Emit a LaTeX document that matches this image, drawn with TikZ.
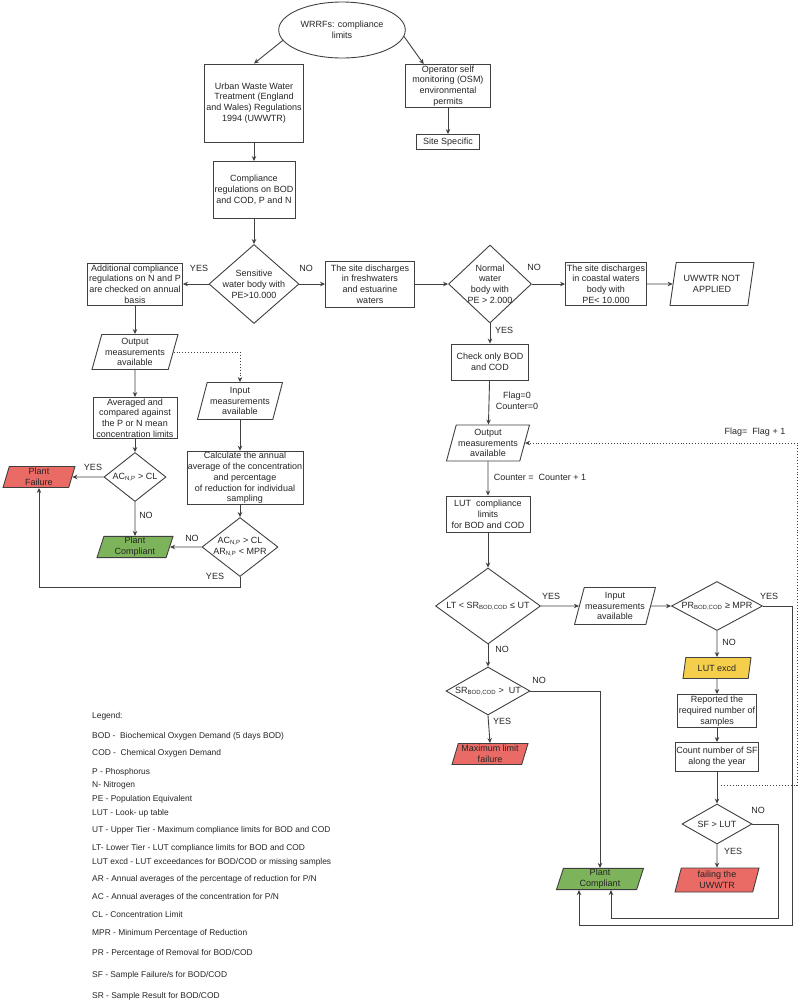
\documentclass[tikz,border=0pt]{standalone}
\usepackage{fontspec}
\setmainfont{Liberation Sans}
\usepackage{xcolor}
\usetikzlibrary{shapes.geometric, arrows.meta}
\definecolor{fail_red}{HTML}{EA6B66}
\definecolor{ok_green}{HTML}{7DB35A}
\definecolor{excd_yellow}{HTML}{F5CF4C}
\definecolor{line_gray}{HTML}{404040}
\tikzset{
  every node/.style={font=\fontsize{9}{10.8}\selectfont, text=black!85},
  box/.style={draw=line_gray, line width=0.9pt, rectangle, align=center, inner sep=1pt},
  io/.style={draw=line_gray, line width=0.9pt, trapezium, trapezium left angle=72,
    trapezium right angle=108, trapezium stretches body, align=center, inner sep=1pt},
  decide/.style={draw=line_gray, line width=0.9pt, diamond, inner sep=0pt},
  flow/.style={draw=line_gray, line width=0.9pt, -{Stealth[length=5pt, width=4.5pt]}},
  tag/.style={inner sep=1pt, align=center},
  legendline/.style={anchor=west, inner sep=0pt, font=\fontsize{8.4}{10}\selectfont},
}
\begin{document}
\begin{tikzpicture}[x=1pt, y=-1pt]
      \fill[white] (0,0) rectangle (801,1002);
      \useasboundingbox (0,0) rectangle (801,1002);
      % Top of the chart
      \node[ellipse, draw=line_gray, line width=0.9pt, minimum width=99, minimum height=56, align=center] (wrrf) at (342,30) {WRRFs: compliance\\limits};
      \node[box, minimum width=99, minimum height=78] (uwwtr) at (254,103) {Urban Waste Water\\Treatment (England\\and Wales) Regulations\\1994 (UWWTR)};
      \node[box, minimum width=85, minimum height=42] (osm) at (448,86) {Operator self\\monitoring (OSM)\\environmental\\permits};
      \node[box, minimum width=63, minimum height=15] (site) at (448,142) {Site Specific};
      \node[box, minimum width=82, minimum height=57] (regs) at (254,190) {Compliance\\regulations on BOD\\and COD, P and N};
      \node[decide, minimum width=90, minimum height=79, label={[align=center]center:Sensitive\\water body with\\PE>10.000}] (sens) at (254,284) {};
      \node[box, minimum width=95, minimum height=42] (addl) at (135,284) {Additional compliance\\regulations on N and P\\are checked on annual\\basis};
      \node[box, minimum width=89, minimum height=46] (fresh) at (370,284) {The site discharges\\in freshwaters\\and estuarine\\waters};
      \node[decide, minimum width=83, minimum height=78, label={[align=center]center:Normal\\water\\body with\\PE > 2.000}] (normal) at (490,284) {};
      \node[box, minimum width=81, minimum height=43] (coast) at (606,284) {The site discharges\\in coastal waters\\body with\\PE< 10.000};
      \node[io, minimum width=84, minimum height=43] (notapp) at (712,284) {UWWTR NOT\\APPLIED};
      % Right branch: BOD and COD
      \node[box, minimum width=77, minimum height=36] (bodcod) at (490,362) {Check only BOD\\and COD};
      \node[io, minimum width=83, minimum height=36] (outR) at (488,443) {Output\\measurements\\available};
      \node[box, minimum width=84, minimum height=36] (lut) at (488,514) {LUT~ compliance\\limits\\for BOD and COD};
      \node[decide, minimum width=105, minimum height=76, label={center:LT < SR\textsubscript{BOD,COD} ≤ UT}] (ltd) at (488,606) {};
      \node[io, minimum width=77, minimum height=37] (inR) at (615,606) {Input\\measurements\\available};
      \node[decide, minimum width=91, minimum height=49, label={center:PR\textsubscript{BOD,COD} ≥ MPR}] (prd) at (717,606) {};
      \node[decide, minimum width=84, minimum height=48, label={center:SR\textsubscript{BOD,COD} >~ UT}] (srd) at (488,691) {};
      \node[io, fill=fail_red, minimum width=76, minimum height=21] (maxfail) at (490,754) {Maximum limit\\failure};
      \node[io, fill=excd_yellow, minimum width=68, minimum height=21] (excd) at (717,668) {LUT excd};
      \node[box, minimum width=79, minimum height=33] (report) at (717,711) {Reported the\\required number of\\samples};
      \node[box, minimum width=79, minimum height=29] (count) at (717,757) {Count number of SF\\along the year};
      \node[decide, minimum width=70, minimum height=40, label={center:SF > LUT}] (sfd) at (717,824) {};
      \node[io, fill=fail_red, minimum width=84, minimum height=24] (failuw) at (717,880) {failing the\\UWWTR};
      \node[io, fill=ok_green, minimum width=87, minimum height=21] (compR) at (600,879) {Plant\\Compliant};
      % Left branch: N and P
      \node[io, minimum width=86, minimum height=35] (outL) at (135,352) {Output\\measurements\\available};
      \node[io, minimum width=85, minimum height=37] (inL) at (240,401) {Input\\measurements\\available};
      \node[box, minimum width=84, minimum height=41] (avg) at (135,418) {Averaged and\\compared against\\the P or N mean\\concentration limits};
      \node[decide, minimum width=62, minimum height=49, label={center:AC\textsubscript{N,P} > CL}] (acd) at (135,477) {};
      \node[io, fill=fail_red, minimum width=72, minimum height=21] (pfail) at (39,477) {Plant\\Failure};
      \node[io, fill=ok_green, minimum width=76, minimum height=20] (compL) at (135,547) {Plant\\Compliant};
      \node[box, minimum width=109, minimum height=50] (calc) at (245,478) {Calculate the annual\\average of the concentration\\and percentage\\of reduction for individual\\sampling};
      \node[decide, minimum width=76, minimum height=59, label={[align=center]center:AC\textsubscript{N,P} > CL\\AR\textsubscript{N,P} < MPR}] (aad) at (240,547) {};
      % Connectors
      \draw[flow] (wrrf.190) -- (uwwtr.north);
      \draw[flow] (wrrf.354) -- (osm.138);
      \draw[flow] (osm) -- (site);
      \draw[flow] (uwwtr) -- (regs);
      \draw[flow] (regs) -- (sens);
      \draw[flow] (sens.west) -- (addl.east);
      \draw[flow] (sens.east) -- (fresh.west);
      \draw[flow] (fresh.east) -- (normal.west);
      \draw[flow] (normal.east) -- (coast.west);
      \draw[flow] (coast.east) -- (notapp.west);
      \draw[flow] (normal.south) -- (bodcod.north);
      \draw[flow] (bodcod) -- (outR);
      \draw[flow] (outR) -- (lut);
      \draw[flow] (lut) -- (ltd);
      \draw[flow] (ltd.east) -- (inR.west);
      \draw[flow] (inR.east) -- (prd.west);
      \draw[flow] (prd.south) -- (excd.north);
      \draw[flow] (excd) -- (report);
      \draw[flow] (report) -- (count);
      \draw[flow] (count) -- (sfd);
      \draw[flow] (sfd.south) -- (failuw.north);
      \draw[flow] (ltd.south) -- (srd.north);
      \draw[flow] (srd.south) -- (maxfail.north);
      \draw[flow] (srd.east) -| (compR.north);
      \coordinate (compRa) at ([xshift=-21pt]compR.south);
      \coordinate (compRb) at ([xshift=11pt]compR.south);
      \draw[flow] (sfd.east) -- ++(26,0) -- ++(0,94) -| (compRb);
      \draw[flow] (prd.east) -- ++(29,0) -- ++(0,319) -| (compRa);
      % Feedback loop
      \coordinate (loop) at (721,785);
      \draw[flow, dotted] (loop) -- ++(76,0) |- (outR.east);
      \draw[flow] (addl) -- (outL);
      \draw[flow, dotted] (outL.east) -| (inL.north);
      \draw[flow] (outL) -- (avg);
      \draw[flow] (avg) -- (acd);
      \draw[flow] (acd.west) -- (pfail.east);
      \draw[flow] (acd.south) -- (compL.north);
      \draw[flow] (inL.south) -- (inL.south |- calc.north);
      \draw[flow] (aad.north |- calc.south) -- (aad.north);
      \draw[flow] (aad.west) -- (compL.east);
      \draw[flow] (aad.south) -- ++(0,10) -| (pfail.south);
      % Connector labels
      \node[tag] (yesA) at (199,268) {YES};
      \node[tag] (noA) at (306,268) {NO};
      \node[tag] (noB) at (534,267) {NO};
      \node[tag] (yesB) at (504,330) {YES};
      \node[tag] (flagzero) at (517,401) {Flag=0\\Counter=0};
      \node[tag] (counter) at (540,477) {Counter =~ Counter + 1};
      \node[tag] (flag) at (755,432) {Flag=~ Flag + 1};
      \node[tag] (yesC) at (551,596) {YES};
      \node[tag] (yesD) at (769,596) {YES};
      \node[tag] (noC) at (502,649) {NO};
      \node[tag] (noD) at (539,680) {NO};
      \node[tag] (yesE) at (502,721) {YES};
      \node[tag] (noE) at (729,642) {NO};
      \node[tag] (noF) at (758,810) {NO};
      \node[tag] (yesF) at (733,851) {YES};
      \node[tag] (yesG) at (93,467) {YES};
      \node[tag] (noG) at (146,515) {NO};
      \node[tag] (noH) at (192,538) {NO};
      \node[tag] (yesH) at (215,576) {YES};
      % Legend
      \node[legendline] (legend) at (92,716) {Legend:};
      \foreach \y/\txt [count=\i] in {736/{BOD -~ Biochemical Oxygen Demand (5 days BOD)},
          753/{COD -~ Chemical Oxygen Demand}, 772/{P - Phosphorus}, 785/{N- Nitrogen},
          799/{PE - Population Equivalent}, 813/{LUT - Look- up table},
          830/{UT - Upper Tier - Maximum compliance limits for BOD and COD},
          848/{LT- Lower Tier - LUT compliance limits for BOD and COD},
          862/{LUT excd - LUT exceedances for BOD/COD or missing samples},
          879/{AR - Annual averages of the percentage of reduction for P/N},
          897/{AC - Annual averages of the concentration for P/N},
          914/{CL - Concentration Limit}, 933/{MPR - Minimum Percentage of Reduction},
          953/{PR - Percentage of Removal for BOD/COD}, 975/{SF - Sample Failure/s for BOD/COD},
          996/{SR - Sample Result for BOD/COD}}
        \node[legendline] (leg\i) at (92,\y) {\txt};
    \end{tikzpicture}
\end{document}
